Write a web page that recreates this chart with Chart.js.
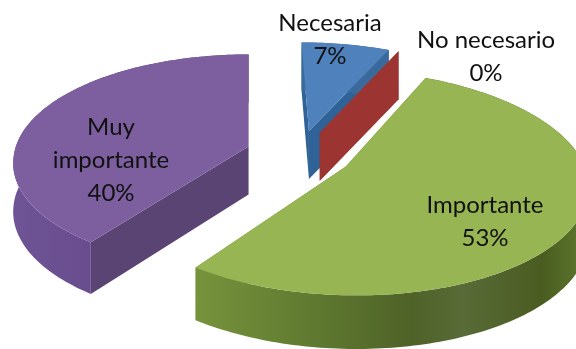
<!DOCTYPE html>
<html>
<head>
<meta charset="utf-8">
<title>Importancia</title>
<script src="https://cdn.jsdelivr.net/npm/chart.js@4/dist/chart.umd.min.js"></script>
<style>
    html, body { margin: 0; padding: 0; background: #fff; }
    canvas { display: block; }
</style>
</head>
<body>
<canvas id="pie" width="576" height="349"></canvas>
<script>
const categories = ['Necesaria', 'No necesario', 'Importante', 'Muy importante'];
const percents = [7, 0, 53, 40];

// Wrapped text for each slice label
const labelLines = [['Necesaria'], ['No necesario'], ['Importante'], ['Muy', 'importante']];
const labelCenters = [[330, 23], [486, 40], [485, 205], [111, 127]];

const faceColors = ['#4f81bd', '#c0504d', '#97b553', '#7d5f9f'];
const cutColors = ['#2f6296', '#9c3532', '#76923c', '#594473'];
const rimStops = [
    [[0, '#3a6a9c'], [1, '#3a6a9c']],
    [[0, '#9c3532'], [1, '#9c3532']],
    [[0, '#77933c'], [0.3, '#5f7a30'], [0.55, '#4f6228'], [0.68, '#586b38'], [0.88, '#4a5c20'], [1, '#5f7a2e']],
    [[0, '#6f5495'], [0.5, '#65498a'], [1, '#5a4372']],
];

// Fake 3D view: the pie lies on a ground plane seen in perspective
const view = {
    cx: 299, cy: 154,
    radiusX: 235, radiusY: 107,
    perspective: 0.14,
    skew: 6,
    explode: 0.226,
    height: 48,
    nearHeight: 5,
};

// u = right, v = away from the viewer, z = 1 for the underside of the slice
function project(u, v, z) {
    const s = 1 / (1 + view.perspective * v);
    const lean = v > 0 ? view.skew * v : view.skew * v / 2;
    const depth = view.height + view.nearHeight * Math.max(-v, 0);
    return {
        x: view.cx + view.radiusX * u * s - lean,
        y: view.cy - view.radiusY * v * s + z * depth,
    };
}

function sliceGeometry(arc) {
    const mid = (arc.startAngle + arc.endAngle) / 2;
    const ox = Math.cos(mid) * view.explode;
    const oy = -Math.sin(mid) * view.explode;
    const rim = [];
    const steps = Math.max(1, Math.ceil((arc.endAngle - arc.startAngle) / 0.02));
    for (let i = 0; i <= steps; i++) {
        const a = arc.startAngle + (arc.endAngle - arc.startAngle) * i / steps;
        rim.push([ox + Math.cos(a), oy - Math.sin(a)]);
    }
    return { apex: [ox, oy], rim };
}

function fillPath(ctx, points, fill) {
    ctx.beginPath();
    points.forEach((p, i) => i ? ctx.lineTo(p.x, p.y) : ctx.moveTo(p.x, p.y));
    ctx.closePath();
    ctx.fillStyle = fill;
    ctx.fill();
}

// Flat side between the centre of a slice and one end of its rim
function fillCut(ctx, apex, end, fill) {
    fillPath(ctx, [
        project(apex[0], apex[1], 0), project(end[0], end[1], 0),
        project(end[0], end[1], 1), project(apex[0], apex[1], 1),
    ], fill);
}

const pie3d = {
    id: 'pie3d',
    // Replaces the flat arcs with extruded slices, keeping the controller's angles
    beforeDatasetsDraw(chart) {
        const ctx = chart.ctx;
        const arcs = chart.getDatasetMeta(0).data;
        [3, 0, 1, 2].forEach(i => {
            const { apex, rim } = sliceGeometry(arcs[i]);
            fillCut(ctx, apex, rim[0], cutColors[i]);
            fillCut(ctx, apex, rim[rim.length - 1], cutColors[i]);

            // outer curved side
            const top = rim.map(p => project(p[0], p[1], 0));
            const bottom = rim.map(p => project(p[0], p[1], 1)).reverse();
            const xs = top.map(p => p.x);
            const grad = ctx.createLinearGradient(Math.min(...xs), 0, Math.max(...xs), 0);
            rimStops[i].forEach(s => grad.addColorStop(s[0], s[1]));
            if (percents[i] > 0) fillPath(ctx, top.concat(bottom), grad);

            // top face
            fillPath(ctx, [project(apex[0], apex[1], 0)].concat(top), faceColors[i]);
        });
        return false;
    },
    afterDraw(chart) {
        const ctx = chart.ctx;
        ctx.font = '24px Lato, sans-serif';
        ctx.fillStyle = '#111';
        ctx.textAlign = 'center';
        ctx.textBaseline = 'middle';
        labelLines.forEach((lines, i) => {
            const rows = lines.concat(percents[i] + '%');
            rows.forEach((row, r) => {
                ctx.fillText(row, labelCenters[i][0], labelCenters[i][1] + r * 33);
            });
        });
    },
};

new Chart(document.getElementById('pie'), {
    type: 'pie',
    data: {
        labels: categories,
        datasets: [{ data: percents, backgroundColor: faceColors, borderWidth: 0 }],
    },
    options: {
        responsive: false,
        animation: false,
        plugins: { legend: { display: false }, tooltip: { enabled: false } },
    },
    plugins: [pie3d],
});
</script>
</body>
</html>
